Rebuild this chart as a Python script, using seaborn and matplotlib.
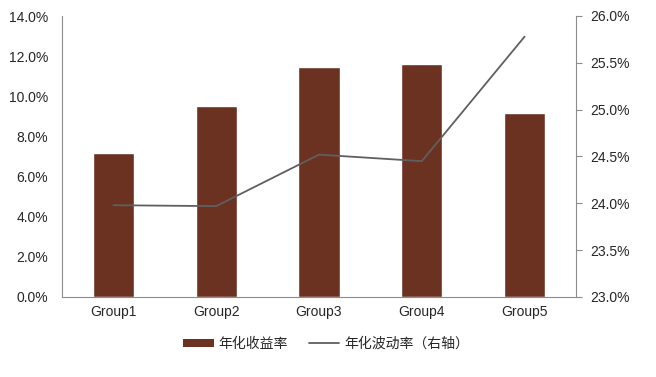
import numpy as np
import pandas as pd
import matplotlib.pyplot as plt
import seaborn as sns
from matplotlib.patches import Patch
from matplotlib.lines import Line2D
from matplotlib.ticker import FuncFormatter, FixedLocator

groups = ['Group1', 'Group2', 'Group3', 'Group4', 'Group5']
ann_return = [7.17, 9.52, 11.46, 11.59, 9.18]       # 年化收益率 (%)
ann_vol = [23.98, 23.97, 24.52, 24.45, 25.78]       # 年化波动率 (%)

sns.set_style('white')
plt.rcParams['font.family'] = ['Liberation Sans', 'Noto Sans CJK SC', 'DejaVu Sans']

bar_color = '#6B3222'
line_color = '#5F5F5F'
spine_color = '#8C8C8C'

df = pd.DataFrame({'group': groups, 'ret': ann_return, 'vol': ann_vol})

fig = plt.figure(figsize=(6.56, 3.77), dpi=100)
ax = fig.add_axes([62 / 656, 80 / 377, 514 / 656, 281 / 377])

sns.barplot(data=df, x='group', y='ret', color=bar_color, width=0.4,
            saturation=1, ax=ax)
ax.set_xlim(-0.5, 4.5)
ax.set_ylim(0, 14)
ax.set_yticks(np.arange(0, 14.1, 2))
ax.yaxis.set_major_formatter(FuncFormatter(lambda v, p: f'{v:.1f}%'))
ax.set_xlabel('')
ax.set_ylabel('')

ax2 = ax.twinx()
sns.lineplot(x=np.arange(len(groups)), y=df['vol'], color=line_color,
             linewidth=1.3, ax=ax2)
ax2.set_ylim(23, 26)
ax2.set_yticks(np.arange(23, 26.01, 0.5))
ax2.yaxis.set_major_formatter(FuncFormatter(lambda v, p: f'{v:.1f}%'))
ax2.set_ylabel('')

for a in (ax, ax2):
    for s in a.spines.values():
        s.set_color(spine_color)
    a.spines['top'].set_visible(False)
ax.spines['right'].set_visible(False)
ax2.spines['left'].set_visible(False)
ax2.spines['bottom'].set_visible(False)

ax.tick_params(axis='y', length=0, labelsize=10, pad=10)
ax.tick_params(axis='x', which='major', length=0, labelsize=10, pad=6)
ax.xaxis.set_minor_locator(FixedLocator(np.arange(-0.5, 4.6, 1)))
ax.tick_params(axis='x', which='minor', length=4, color=spine_color)
ax2.tick_params(axis='y', length=4, color=spine_color, labelsize=10, pad=6)

handles = [Patch(facecolor=bar_color, edgecolor='none'),
           Line2D([0], [0], color=line_color, linewidth=1.3)]
fig.legend(handles, ['年化收益率', '年化波动率（右轴）'], loc='center',
           bbox_to_anchor=(0.497, 0.088), ncol=2, frameon=False,
           fontsize=10, handlelength=2.2, handleheight=0.6,
           columnspacing=1.5, handletextpad=0.35)

fig.savefig('out.png', dpi=100)
